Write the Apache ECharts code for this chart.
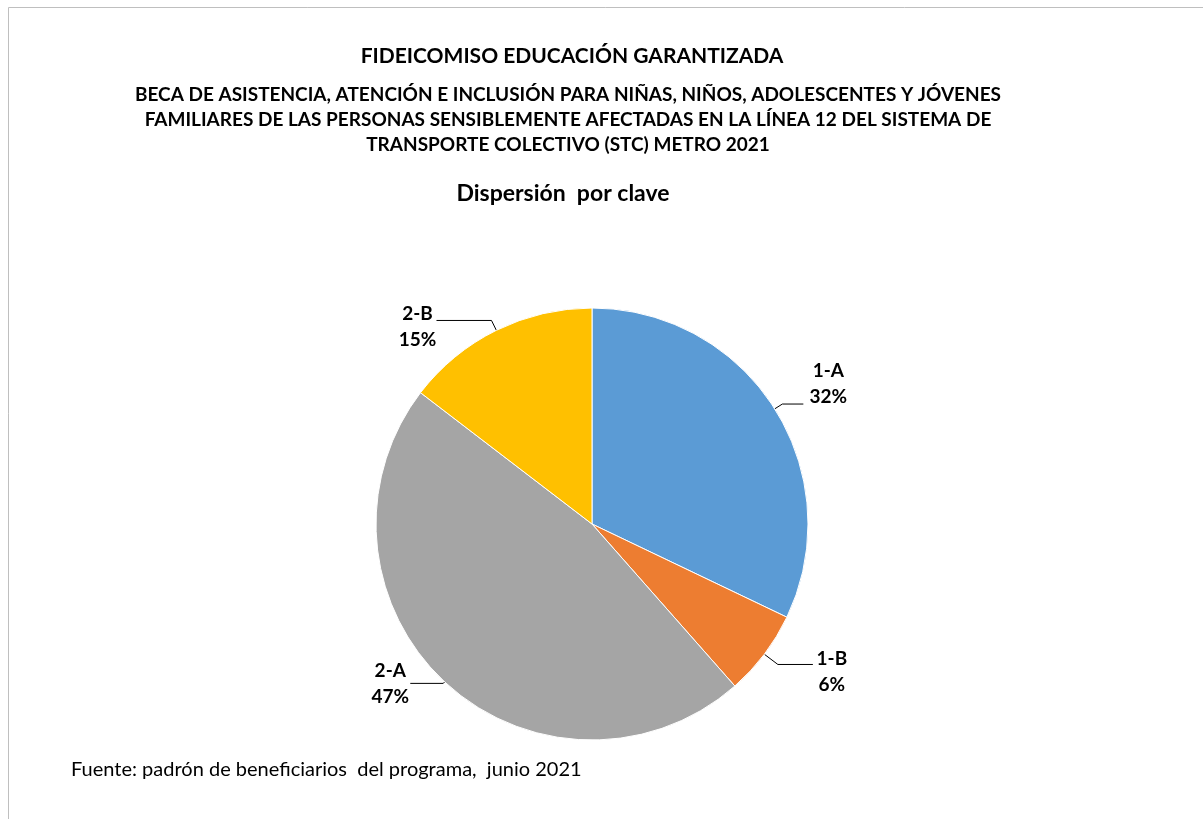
<!DOCTYPE html>
<html><head><meta charset="utf-8">
<script src="https://cdn.jsdelivr.net/npm/echarts@6/dist/echarts.min.js"></script>
<style>html,body{margin:0;padding:0;background:#fff}#c{width:1203px;height:819px}</style>
</head><body><div id="c"></div>
<script>
const categories = ['1-A', '1-B', '2-A', '2-B'];
const values = [32.1, 6.4, 46.9, 14.6];
const colors = ['#5B9BD5', '#ED7D31', '#A5A5A5', '#FFC000'];
const titleText = 'FIDEICOMISO EDUCACIÓN GARANTIZADA';
const subtitleText = 'BECA DE ASISTENCIA, ATENCIÓN E INCLUSIÓN PARA NIÑAS, NIÑOS, ADOLESCENTES Y JÓVENES\nFAMILIARES DE LAS PERSONAS SENSIBLEMENTE AFECTADAS EN LA LÍNEA 12 DEL SISTEMA DE\nTRANSPORTE COLECTIVO (STC) METRO 2021';
const chartTitle = 'Dispersión  por clave';
const sourceText = 'Fuente: padrón de beneficiarios  del programa,  junio 2021';
// presentational leader-line lengths [length, length2] and label nudges [dx, dy]
const leaderLens = [[9, 21], [17, 35], [2, 33], [11, 55]];
const labelNudge = [[0, -20], [-6, 7], [5, 0], [6, 6]];

const FONT = 'Lato';
const labelFont = {fontFamily: FONT, fontWeight: 'bold', fontSize: 19, lineHeight: 26, color: '#000'};
const chart = echarts.init(document.getElementById('c'), null, {renderer: 'canvas'});
chart.setOption({
  backgroundColor: '#fff',
  animation: false,
  title: [
    {text: titleText, left: 572, top: 46, padding: 0, textAlign: 'center',
     textStyle: {fontFamily: FONT, fontWeight: 'bold', fontSize: 21, color: '#000'}},
    {text: subtitleText, left: 568, top: 82, padding: 0, textAlign: 'center',
     textStyle: {fontFamily: FONT, fontWeight: 'bold', fontSize: 19, lineHeight: 25, color: '#000', align: 'center'}},
    {text: chartTitle, left: 563, top: 182, padding: 0, textAlign: 'center',
     textStyle: {fontFamily: FONT, fontWeight: 'bold', fontSize: 23, color: '#000'}},
    {text: sourceText, left: 71, top: 760, padding: 0,
     textStyle: {fontFamily: FONT, fontWeight: 'normal', fontSize: 20, color: '#000'}}
  ],
  graphic: [
    {type: 'line', shape: {x1: 8.5, y1: 7.5, x2: 1203, y2: 7.5}, style: {stroke: '#bfbfbf', lineWidth: 1}},
    {type: 'line', shape: {x1: 8.5, y1: 7.5, x2: 8.5, y2: 819}, style: {stroke: '#bfbfbf', lineWidth: 1}}
  ],
  series: [{
    type: 'pie',
    center: [592, 524],
    radius: 216,
    startAngle: 90,
    clockwise: true,
    percentPrecision: 0,
    color: colors,
    itemStyle: {borderColor: '#fff', borderWidth: 1},
    label: Object.assign({
      show: true,
      position: 'outside',
      formatter: '{c|{b}}\n{c|{d}%}',
      rich: {c: Object.assign({width: 40, align: 'center'}, labelFont)}
    }, labelFont),
    labelLine: {show: true, lineStyle: {color: '#000', width: 1}},
    labelLayout: function (p) {
      const n = labelNudge[p.dataIndex] || [0, 0];
      return {dx: n[0], dy: n[1]};
    },
    emphasis: {disabled: true},
    data: categories.map((c, i) => ({
      name: c, value: values[i],
      labelLine: {length: leaderLens[i][0], length2: leaderLens[i][1]}
    }))
  }]
});
</script></body></html>
